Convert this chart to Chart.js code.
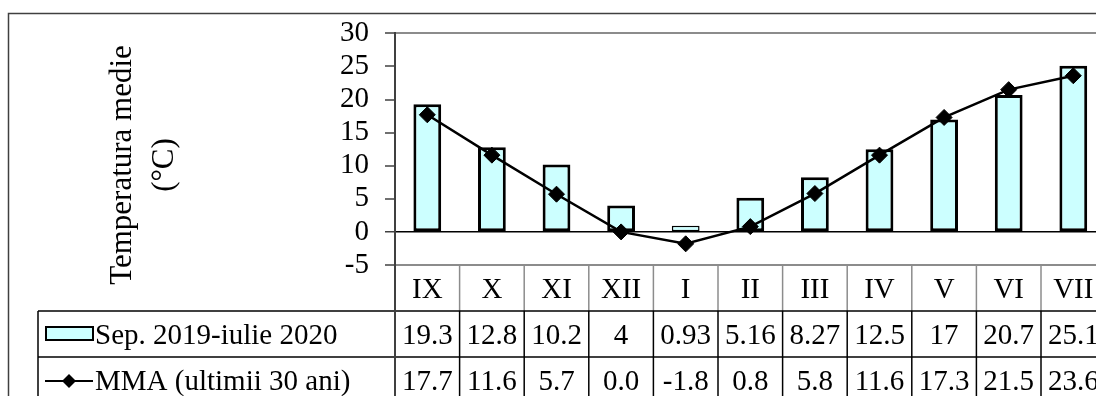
<!DOCTYPE html>
<html>
<head>
<meta charset="utf-8">
<title>Temperatura medie</title>
<script src="https://cdn.jsdelivr.net/npm/chart.js@4.4.0/dist/chart.umd.min.js"></script>
<style>
html, body { margin: 0; padding: 0; background: #fff; overflow: hidden; }
#wrap { position: relative; width: 1096px; height: 396px; overflow: hidden; }
#tempChart { position: absolute; left: 0; top: 0; }
</style>
</head>
<body>
<div id="wrap"><canvas id="tempChart" width="1140" height="430"></canvas></div>
<script>
'use strict';

// luni (sep. 2019 - iul. 2020)
const luni = ['IX', 'X', 'XI', 'XII', 'I', 'II', 'III', 'IV', 'V', 'VI', 'VII'];
const temp2020 = [19.3, 12.8, 10.2, 4, 0.93, 5.16, 8.27, 12.5, 17, 20.7, 25.1];
const mma30 = [17.7, 11.6, 5.7, 0.0, -1.8, 0.8, 5.8, 11.6, 17.3, 21.5, 23.6];
const yTicks = [30, 25, 20, 15, 10, 5, 0, -5];
const serieNume = ['Sep. 2019-iulie 2020', 'MMA (ultimii 30 ani)'];
const titluAxa = ['Temperatura medie', '(°C)'];

const FAMILY = '"Liberation Serif", "Times New Roman", serif';
const FONT_SIZE = 29;
const BAR_FILL = '#ccffff';

(function() {
    // eticheta afisata in tabel: prima serie asa cum e, a doua cu o zecimala
    const fmt = [v => String(v), v => v.toFixed(1)];

    const tabelPlugin = {
        id: 'tabelDate',
        beforeDraw(chart) {
            const ctx = chart.ctx;
            ctx.save();
            ctx.fillStyle = '#fff';
            ctx.fillRect(0, 0, chart.width, chart.height);
            ctx.restore();
        },
        afterDraw(chart) {
            const ctx = chart.ctx;
            const xs = chart.scales.x;
            const area = chart.chartArea;
            const colW = (area.right - area.left) / luni.length;
            const rowH = 46;
            const r0 = area.bottom;
            const r1 = r0 + rowH;
            const r2 = r1 + rowH;
            const r3 = r2 + rowH;
            const legLeft = 38;

            ctx.save();

            // chenarul exterior
            ctx.strokeStyle = '#404040';
            ctx.lineWidth = 1.5;
            ctx.strokeRect(8.5, 13.5, chart.width + 20, chart.height + 20);

            // linii tabel - randul cu luni (gri)
            ctx.strokeStyle = '#8c8c8c';
            ctx.lineWidth = 1.5;
            for (let i = 1; i <= luni.length; i++) {
                const xx = area.left + i * colW;
                ctx.beginPath();
                ctx.moveTo(xx, r0);
                ctx.lineTo(xx, r1);
                ctx.stroke();
            }

            // linii tabel - randurile cu valori
            ctx.strokeStyle = '#000';
            ctx.lineWidth = 1.5;
            [r1, r2, r3].forEach(yy => {
                ctx.beginPath();
                ctx.moveTo(legLeft, yy);
                ctx.lineTo(chart.width, yy);
                ctx.stroke();
            });
            for (let i = 1; i <= luni.length; i++) {
                const xx = area.left + i * colW;
                ctx.beginPath();
                ctx.moveTo(xx, r1);
                ctx.lineTo(xx, r3);
                ctx.stroke();
            }
            ctx.beginPath();
            ctx.moveTo(legLeft, r1);
            ctx.lineTo(legLeft, r3);
            ctx.stroke();

            // axa verticala continua prin tabel
            ctx.strokeStyle = '#404040';
            ctx.lineWidth = 2;
            ctx.beginPath();
            ctx.moveTo(area.left, r0);
            ctx.lineTo(area.left, r3);
            ctx.stroke();

            // texte
            ctx.fillStyle = '#000';
            ctx.font = FONT_SIZE + 'px ' + FAMILY;
            ctx.textAlign = 'center';
            ctx.textBaseline = 'middle';
            luni.forEach((l, i) => {
                const cx = xs.getPixelForValue(i);
                ctx.fillText(l, cx, r0 + rowH / 2 + 2);
                ctx.fillText(fmt[0](temp2020[i]), cx, r1 + rowH / 2 + 2);
                ctx.fillText(fmt[1](mma30[i]), cx, r2 + rowH / 2 + 2);
            });

            // legenda in tabel
            ctx.textAlign = 'left';
            ctx.fillText(serieNume[0], 95, r1 + rowH / 2 + 2);
            ctx.fillText(serieNume[1], 95, r2 + rowH / 2 + 2);

            ctx.fillStyle = BAR_FILL;
            ctx.strokeStyle = '#000';
            ctx.lineWidth = 2;
            ctx.fillRect(46, r1 + 16, 47, 13);
            ctx.strokeRect(46, r1 + 16, 47, 13);

            const ly = r2 + 24;
            ctx.beginPath();
            ctx.moveTo(45, ly);
            ctx.lineTo(93, ly);
            ctx.stroke();
            ctx.fillStyle = '#000';
            ctx.beginPath();
            ctx.moveTo(69, ly - 7);
            ctx.lineTo(76, ly);
            ctx.lineTo(69, ly + 7);
            ctx.lineTo(62, ly);
            ctx.closePath();
            ctx.fill();

            // titlul axei Y
            ctx.font = '31px ' + FAMILY;
            ctx.textAlign = 'center';
            ctx.textBaseline = 'middle';
            [[123, titluAxa[0]], [165, titluAxa[1]]].forEach(([tx, t]) => {
                ctx.save();
                ctx.translate(tx, 165);
                ctx.rotate(-Math.PI / 2);
                ctx.fillText(t, 0, 0);
                ctx.restore();
            });

            ctx.restore();
        }
    };

    const canvas = document.getElementById('tempChart');
    const ctx = canvas.getContext('2d');

    new Chart(ctx, {
        data: {
            labels: luni,
            datasets: [
                {
                    type: 'line',
                    label: serieNume[1],
                    data: mma30,
                    order: 0,
                    borderColor: '#000',
                    borderWidth: 2.5,
                    backgroundColor: '#000',
                    pointStyle: 'rectRot',
                    pointRadius: 8,
                    pointBorderWidth: 1,
                    tension: 0
                },
                {
                    type: 'bar',
                    label: serieNume[0],
                    data: temp2020,
                    order: 1,
                    backgroundColor: BAR_FILL,
                    borderColor: '#000',
                    // bara foarte mica: contur mai subtire ca sa se vada umplutura
                    borderWidth: c => (Math.abs(c.raw) < 2 ? 1.5 : 3),
                    borderSkipped: false,
                    categoryPercentage: 1,
                    barPercentage: 0.43
                }
            ]
        },
        options: {
            responsive: false,
            animation: false,
            layout: {
                padding: { left: 335, top: 32, right: 34.4, bottom: 165 }
            },
            plugins: {
                legend: { display: false },
                tooltip: { enabled: false }
            },
            scales: {
                x: {
                    type: 'category',
                    display: false,
                    offset: true
                },
                y: {
                    min: Math.min(...yTicks),
                    max: Math.max(...yTicks),
                    afterFit(scale) { scale.width = 60; },
                    border: { display: true, color: '#404040', width: 2 },
                    grid: {
                        drawOnChartArea: true,
                        color: c => {
                            if (c.tick.value === 0) return '#000';
                            if (c.tick.value === yTicks[0] || c.tick.value === yTicks[yTicks.length - 1]) return '#8c8c8c';
                            return 'rgba(0,0,0,0)';
                        },
                        lineWidth: c => (c.tick.value === 0 ? 1.5 : 2),
                        tickColor: '#404040',
                        tickLength: 10,
                        tickWidth: 1.5
                    },
                    ticks: {
                        stepSize: yTicks[0] - yTicks[1],
                        autoSkip: false,
                        color: '#000',
                        padding: 16,
                        font: { family: FAMILY, size: FONT_SIZE }
                    }
                }
            }
        },
        plugins: [tabelPlugin]
    });
})();
</script>
</body>
</html>
